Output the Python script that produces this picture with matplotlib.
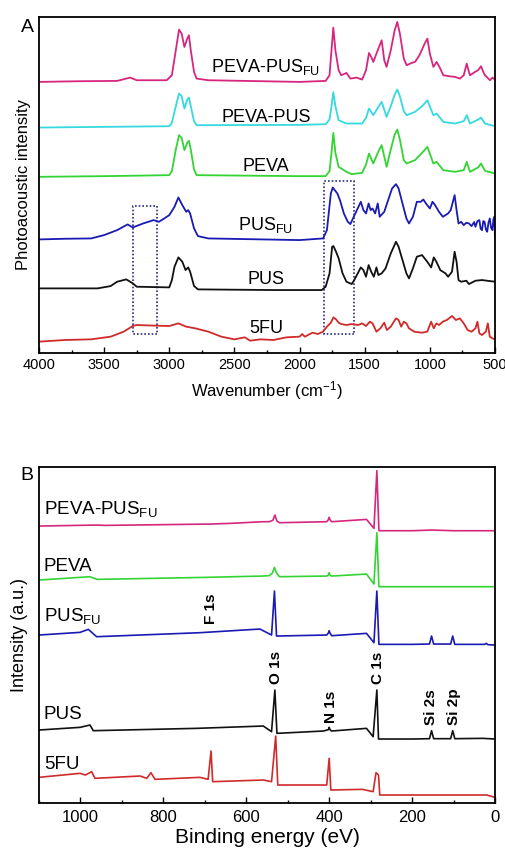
import numpy as np
import matplotlib
matplotlib.use("Agg")
import matplotlib.pyplot as plt
from matplotlib.patches import Rectangle

plt.rcParams['font.family'] = ['Liberation Sans', 'DejaVu Sans']
plt.rcParams['mathtext.fontset'] = 'custom'
plt.rcParams['mathtext.rm'] = 'Liberation Sans'
plt.rcParams['mathtext.it'] = 'Liberation Sans:italic'
plt.rcParams['mathtext.bf'] = 'Liberation Sans:bold'

# ---------------- Panel A data (FTIR-PAS, stacked, arbitrary units) ----------------
wn_pevapusfu = [4000, 3700, 3400, 3300, 3250, 3020, 2980, 2950, 2925, 2905, 2884, 2862, 2849, 2835, 2810, 2790,
                2700, 2000, 1800, 1770, 1755, 1741, 1725, 1700, 1680, 1640, 1610, 1562, 1520, 1490, 1467, 1450,
                1434, 1400, 1370, 1350, 1332, 1300, 1270, 1250, 1230, 1200, 1178, 1140, 1114, 1080, 1040, 1019,
                1000, 973, 948, 920, 897, 850, 807, 769, 740, 717, 700, 692, 653, 630, 607, 590, 577, 538, 520, 500]
int_pevapusfu = [813, 815, 816, 826, 818, 818, 833, 908, 970, 958, 918, 943, 953, 908, 843, 823,
                 818, 813, 816, 833, 908, 976, 908, 848, 833, 840, 823, 826, 820, 848, 900, 888,
                 873, 908, 938, 878, 858, 908, 968, 993, 958, 883, 863, 870, 873, 893, 928, 943,
                 898, 858, 873, 853, 833, 830, 828, 823, 833, 868, 843, 833, 843, 848, 860, 843, 833, 818, 826, 820]

wn_pevapus = [4000, 3500, 3000, 2980, 2950, 2925, 2905, 2884, 2862, 2849, 2835, 2810, 2790, 2000, 1800, 1770,
              1755, 1741, 1725, 1700, 1640, 1520, 1490, 1467, 1434, 1400, 1370, 1332, 1300, 1270, 1250, 1230,
              1200, 1178, 1114, 1060, 1019, 973, 948, 897, 807, 740, 717, 692, 630, 607, 577, 500]
int_pevapus = [676, 678, 680, 690, 740, 778, 770, 733, 760, 766, 740, 695, 683, 684, 686, 700,
               740, 782, 740, 698, 688, 688, 705, 733, 713, 735, 753, 708, 740, 775, 790, 770,
               725, 713, 723, 740, 758, 713, 718, 693, 688, 695, 713, 688, 700, 706, 688, 680]

wn_peva = [4000, 3500, 3000, 2980, 2950, 2925, 2905, 2884, 2862, 2849, 2835, 2810, 2790, 2000, 1800, 1770,
           1755, 1741, 1725, 1700, 1640, 1600, 1520, 1490, 1467, 1434, 1400, 1370, 1332, 1300, 1270, 1250,
           1230, 1200, 1178, 1114, 1060, 1019, 973, 948, 897, 807, 740, 717, 692, 630, 607, 577, 500]
int_peva = [528, 530, 533, 545, 610, 653, 645, 608, 630, 636, 610, 550, 533, 530, 530, 545,
            600, 660, 600, 558, 543, 536, 540, 565, 598, 568, 600, 623, 558, 610, 655, 670,
            640, 578, 568, 578, 600, 618, 568, 573, 548, 543, 548, 573, 543, 556, 568, 546, 538]

wn_pusfu = [4000, 3800, 3600, 3500, 3400, 3320, 3280, 3200, 3120, 3080, 3050, 3000, 2960, 2930, 2900, 2870,
            2855, 2840, 2810, 2780, 2700, 2000, 1820, 1790, 1760, 1745, 1730, 1710, 1690, 1660, 1630, 1610,
            1590, 1560, 1530, 1510, 1490, 1470, 1455, 1440, 1420, 1400, 1385, 1350, 1320, 1290, 1260, 1240,
            1210, 1180, 1160, 1130, 1100, 1070, 1050, 1030, 1000, 980, 960, 930, 900, 880, 860, 840,
            810, 795, 780, 760, 740, 720, 700, 680, 660, 650, 635, 620, 610, 600, 590, 580, 570, 560,
            550, 540, 530, 520, 512, 505, 500]
int_pusfu = [340, 342, 343, 353, 368, 385, 376, 388, 398, 393, 400, 413, 438, 466, 443, 423,
             428, 418, 373, 350, 343, 338, 343, 368, 478, 496, 488, 478, 458, 418, 393, 386,
             403, 428, 453, 428, 418, 448, 428, 433, 418, 448, 408, 423, 458, 493, 506, 493,
             448, 403, 388, 408, 453, 453, 460, 448, 433, 453, 443, 423, 408, 413, 418, 428,
             473, 428, 388, 393, 383, 390, 388, 380, 392, 378, 395, 398, 372, 368, 395, 393, 370, 363,
             390, 403, 375, 368, 400, 408, 343]

wn_pus = [4000, 3550, 3450, 3400, 3330, 3280, 3250, 3000, 2980, 2960, 2930, 2900, 2875, 2855, 2840, 2810,
          2780, 2200, 1830, 1800, 1770, 1750, 1740, 1720, 1700, 1670, 1640, 1600, 1580, 1530, 1510, 1490,
          1470, 1450, 1430, 1410, 1395, 1370, 1340, 1300, 1260, 1240, 1210, 1180, 1160, 1130, 1100, 1060,
          1040, 1020, 990, 970, 950, 920, 880, 860, 830, 810, 795, 780, 760, 720, 700, 650, 600, 500]
int_pus = [193, 193, 200, 213, 220, 208, 198, 196, 218, 258, 286, 273, 248, 256, 243, 200,
           190, 188, 188, 198, 238, 318, 320, 303, 283, 238, 213, 206, 218, 256, 248, 228,
           263, 243, 228, 256, 233, 238, 253, 298, 333, 318, 278, 238, 223, 253, 288, 293,
           283, 273, 256, 286, 273, 248, 238, 228, 243, 303, 273, 218, 213, 216, 206, 216, 218, 213]

wn_5fu = [4000, 3800, 3600, 3450, 3350, 3280, 3250, 3100, 3000, 2930, 2870, 2800, 2700, 2600, 2500, 2420,
          2380, 2300, 2200, 2100, 2000, 1980, 1960, 1900, 1860, 1820, 1790, 1760, 1740, 1720, 1700, 1680,
          1640, 1600, 1550, 1520, 1490, 1460, 1440, 1410, 1380, 1350, 1330, 1300, 1260, 1240, 1220, 1200,
          1180, 1160, 1120, 1060, 1020, 990, 970, 950, 930, 900, 870, 830, 800, 770, 740, 710, 680, 650,
          635, 620, 600, 570, 555, 540, 520, 500]
int_5fu = [33, 38, 40, 48, 63, 80, 83, 81, 80, 88, 78, 73, 63, 48, 40, 46,
           36, 40, 38, 46, 48, 56, 48, 60, 56, 63, 78, 90, 106, 100, 90, 86,
           83, 86, 83, 88, 80, 93, 88, 63, 73, 90, 68, 78, 103, 98, 78, 93,
           88, 73, 63, 60, 63, 93, 73, 88, 83, 93, 98, 110, 98, 103, 88, 68, 63, 73,
           93, 58, 53, 63, 88, 48, 43, 40]

labels_a = [r'PEVA-PUS$_{\mathrm{FU}}$', 'PEVA-PUS', 'PEVA', r'PUS$_{\mathrm{FU}}$', 'PUS', '5FU']
label_y_a = [858, 707, 560, 382, 221, 74]
colors = ['#D6267E', '#36D9E0', '#33D433', '#1A1AB4', '#111111', '#D02A2A']

# ---------------- Panel B data (XPS survey, stacked) ----------------
be_pevapusfu = [1100, 961, 940, 687, 639, 560, 545, 536, 531, 526, 520, 406, 402, 400, 398, 394,
                310, 292, 285, 280, 200, 153, 100, 0]
xps_pevapusfu = [831, 834, 833, 837, 839, 844, 844, 848, 864, 846, 841, 844, 850, 857, 850, 844,
                 851, 824, 997, 817, 817, 819, 817, 817]

be_peva = [1100, 977, 960, 700, 560, 545, 537, 532, 527, 520, 406, 402, 400, 398, 394,
           310, 292, 285, 280, 200, 0]
xps_peva = [669, 679, 671, 677, 681, 682, 690, 707, 690, 679, 681, 684, 691, 684, 681,
            687, 657, 811, 649, 649, 649]

be_pusfu = [1100, 1001, 981, 961, 712, 567, 539, 532, 527, 406, 402, 400, 398, 394,
            310, 292, 285, 280, 200, 158, 153, 148, 107, 102, 97, 25, 21, 17, 0]
xps_pusfu = [504, 512, 521, 499, 511, 522, 504, 636, 501, 504, 510, 517, 510, 502,
             509, 481, 636, 476, 476, 477, 501, 477, 477, 501, 476, 476, 479, 475, 474]

be_pus = [1100, 1001, 977, 969, 720, 559, 539, 531, 526, 414, 402, 400, 398, 394,
          310, 294, 285, 281, 200, 158, 153, 148, 107, 102, 97, 30, 0]
xps_pus = [219, 227, 234, 217, 224, 231, 214, 339, 209, 216, 220, 227, 220, 216,
           224, 199, 339, 192, 192, 193, 217, 193, 193, 217, 193, 194, 192]

be_5fu = [1100, 1001, 988, 973, 965, 856, 840, 830, 820, 712, 692, 685, 681, 559, 539, 529, 524,
          406, 400, 396, 320, 294, 287, 281, 278, 200, 20, 0]
xps_5fu = [77, 89, 84, 94, 74, 81, 74, 91, 71, 77, 71, 156, 64, 69, 64, 201, 54,
           54, 134, 39, 41, 34, 91, 84, 24, 24, 24, 17]

labels_b = [r'PEVA-PUS$_{\mathrm{FU}}$', 'PEVA', r'PUS$_{\mathrm{FU}}$', 'PUS', '5FU']
label_y_b = [882, 711, 562, 267, 117]
colors_b = ['#D6267E', '#33D433', '#1A1AB4', '#111111', '#D02A2A']

peak_names = ['F 1s', 'O 1s', 'N 1s', 'C 1s', 'Si 2s', 'Si 2p']
peak_be = [685, 528, 396, 282, 154, 99]
peak_label_y = [582, 408, 288, 405, 288, 288]

# ---------------- Figure ----------------
fig = plt.figure(figsize=(5.05, 8.57), dpi=100)
axA = fig.add_axes([0.0772, 0.5885, 0.9030, 0.3917])
axB = fig.add_axes([0.0772, 0.0630, 0.9030, 0.3920])

series_a = [(wn_pevapusfu, int_pevapusfu), (wn_pevapus, int_pevapus), (wn_peva, int_peva),
            (wn_pusfu, int_pusfu), (wn_pus, int_pus), (wn_5fu, int_5fu)]
for (x, y), c in zip(series_a, colors):
    axA.plot(x, y, color=c, lw=1.3)
for lab, ly in zip(labels_a, label_y_a):
    axA.text(2258, ly, lab, ha='center', va='center', fontsize=13)

box_kw = dict(fill=False, ec='#2B2B80', lw=1.2, ls=(0, (1, 1.2)))
axA.add_patch(Rectangle((3097, 56), 3276 - 3097, 440 - 56, **box_kw))
axA.add_patch(Rectangle((1582, 56), 1813 - 1582, 515 - 56, **box_kw))

axA.set_xlim(4000, 500)
axA.set_ylim(0, 1008)
axA.set_xticks([4000, 3500, 3000, 2500, 2000, 1500, 1000, 500])
axA.set_xticks(np.arange(500, 4001, 250), minor=True)
axA.set_yticks([])
axA.tick_params(axis='x', direction='in', length=4, width=1, labelsize=10.5, pad=4)
axA.tick_params(axis='x', which='minor', direction='in', length=2.5, width=1)
axA.set_xlabel(r'Wavenumber (cm$^{-1}$)', fontsize=12, labelpad=5)
axA.set_ylabel('Photoacoustic intensity', fontsize=12, labelpad=6)
for s in axA.spines.values():
    s.set_linewidth(1.3)
fig.text(27 / 505, 1 - 27 / 857, 'A', fontsize=14, ha='center', va='center')

series_b = [(be_pevapusfu, xps_pevapusfu), (be_peva, xps_peva), (be_pusfu, xps_pusfu),
            (be_pus, xps_pus), (be_5fu, xps_5fu)]
for (x, y), c in zip(series_b, colors_b):
    axB.plot(x, y, color=c, lw=1.2)
for lab, ly in zip(labels_b, label_y_b):
    axB.text(1088, ly, lab, ha='left', va='center', fontsize=13.5)
for name, xb, yb in zip(peak_names, peak_be, peak_label_y):
    axB.text(xb, yb, name, rotation=90, ha='center', va='center', fontsize=11, fontweight='bold')

axB.set_xlim(1100, 0)
axB.set_ylim(0, 1008)
axB.set_xticks([1000, 800, 600, 400, 200, 0])
axB.set_xticks(np.arange(0, 1101, 100), minor=True)
axB.set_yticks([])
axB.tick_params(axis='x', direction='in', length=4, width=1, labelsize=12, pad=5)
axB.tick_params(axis='x', which='minor', direction='in', length=2.5, width=1)
axB.set_xlabel('Binding energy (eV)', fontsize=15, labelpad=2)
axB.set_ylabel('Intensity (a.u.)', fontsize=13, labelpad=8)
for s in axB.spines.values():
    s.set_linewidth(1.3)
fig.text(27 / 505, 1 - 476 / 857, 'B', fontsize=14, ha='center', va='center')

fig.savefig('out.png', dpi=100)
